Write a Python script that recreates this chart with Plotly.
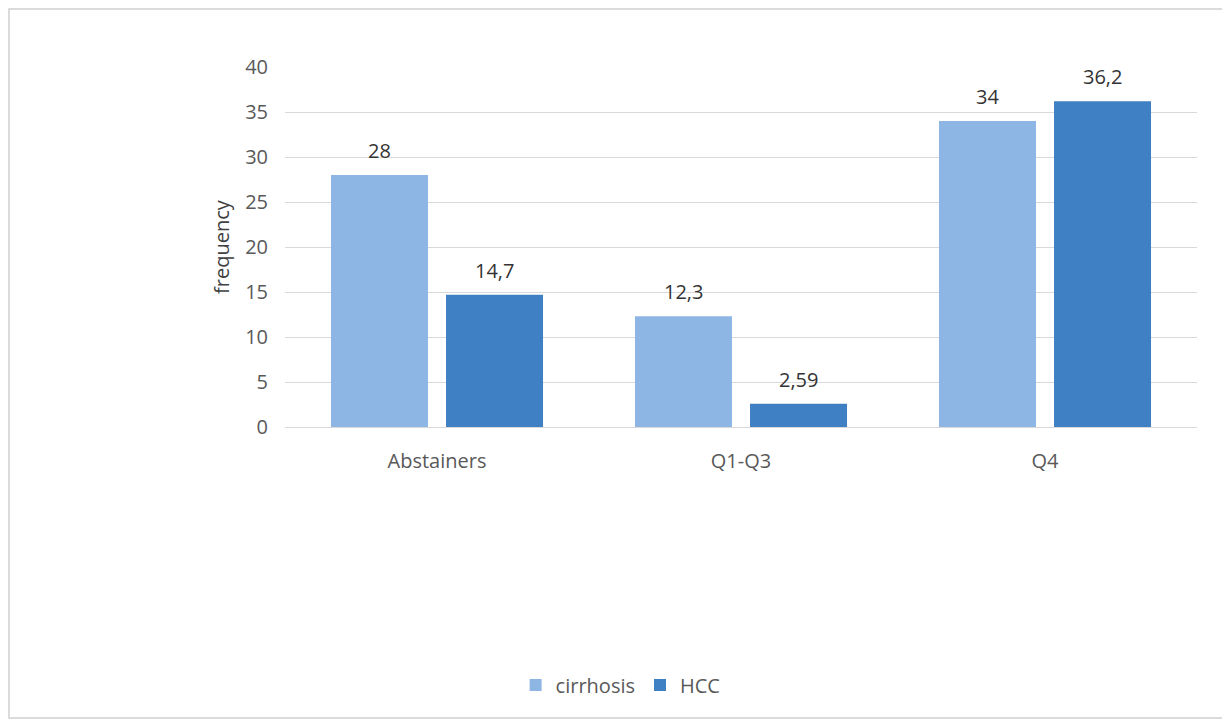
import plotly.graph_objects as go

categories = ['Abstainers', 'Q1-Q3', 'Q4']
cirrhosis = [28, 12.3, 34]
hcc = [14.7, 2.59, 36.2]
cirrhosis_labels = ['28', '12,3', '34']
hcc_labels = ['14,7', '2,59', '36,2']

font_family = 'Open Sans, Liberation Sans, sans-serif'

fig = go.Figure()
fig.add_trace(go.Bar(
    x=categories, y=cirrhosis, name='cirrhosis',
    marker=dict(color='#8EB6E4', line=dict(width=0)),
))
fig.add_trace(go.Bar(
    x=categories, y=hcc, name='HCC',
    marker=dict(color='#3F7FC3', line=dict(width=0)),
))

# value labels sit above each bar (offset left/right for the grouped pair)
annotations = []
for series, labels, shift in [(cirrhosis, cirrhosis_labels, -57.5), (hcc, hcc_labels, 57.5)]:
    for cat, val, lab in zip(categories, series, labels):
        annotations.append(dict(
            x=cat, y=val, text=lab, showarrow=False,
            xanchor='center', yanchor='bottom', xshift=shift, yshift=9,
            font=dict(size=20, color='#333333'),
        ))

fig.update_layout(
    width=1230, height=722,
    margin=dict(l=277, r=41, t=59, b=303),
    paper_bgcolor='white', plot_bgcolor='white',
    font=dict(family=font_family, color='#595959'),
    barmode='group', bargap=0.243, bargroupgap=0.157,
    showlegend=True,
    legend=dict(orientation='h', x=0.368, xanchor='center', y=-0.717, yanchor='middle',
                font=dict(size=20, color='#595959'), itemwidth=30),
    xaxis=dict(showgrid=False, showline=False, ticks='', ticklabelstandoff=20,
               tickfont=dict(size=20, color='#595959')),
    yaxis=dict(range=[0, 40], dtick=5, gridcolor='#D9D9D9', gridwidth=1,
               zeroline=True, zerolinecolor='#D9D9D9', zerolinewidth=1,
               tickfont=dict(size=20, color='#595959'), ticklabelstandoff=16,
               title=dict(text='frequency', font=dict(size=20, color='#404040'), standoff=10)),
    annotations=annotations,
    shapes=[dict(type='rect', xref='paper', yref='paper',
                 x0=(1 - 277) / 912, x1=(1218 - 277) / 912,
                 y0=(419 - 710) / 360, y1=(419 - 1) / 360,
                 line=dict(color='#D0D0D0', width=1.5), layer='below')],
)

fig.write_html('out.html')
